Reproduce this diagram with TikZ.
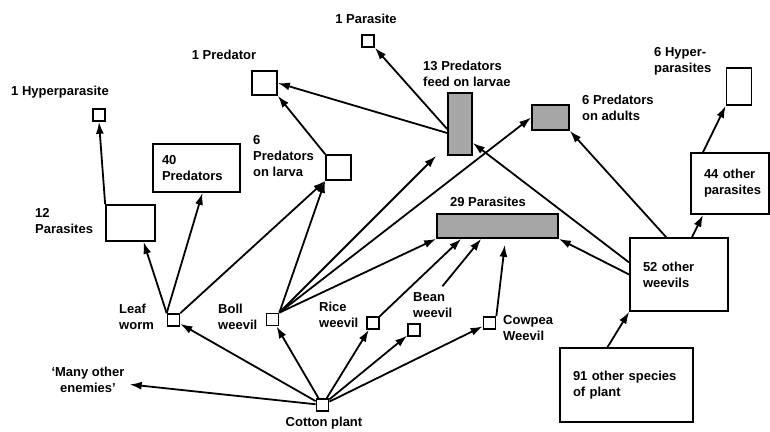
\documentclass[tikz,border=0pt]{standalone}
\usepackage{fontspec}
\setmainfont{Liberation Sans}
\usetikzlibrary{arrows.meta}

\tikzstyle{vertex}=[draw,line width=1.7pt,rectangle,minimum size=12pt,inner sep=0pt]
\tikzstyle{group}=[draw,line width=1.7pt,rectangle,inner sep=0pt]
\tikzstyle{shaded}=[group,fill=black!35]
\tikzstyle{textbox}=[group,align=left,inner xsep=13pt,font=\fontsize{13}{16}\selectfont\bfseries]
\tikzstyle{lbl}=[inner sep=0pt,align=left,font=\fontsize{13}{16}\selectfont\bfseries]
\tikzstyle{edge}=[draw,line width=1.8pt,-{Latex[length=12pt,width=8pt]}]

\begin{document}
\begin{tikzpicture}[x=1pt, y=-1pt]
    \useasboundingbox (0,0) rectangle (770,431);
    % First we draw the small squares
    \foreach \pos/\name in {{(322.5,405)/cotton}, {(173.5,320)/leaf}, {(272.5,319.5)/boll}, {(373,323)/rice}, {(414,330)/bean}, {(489.5,323)/cowpea}, {(99,115)/hyper1}, {(368,41)/parasite1}}
        \node[vertex] (\name) at \pos {};
    % then the boxes of enemies
    \node[group, minimum width=49pt, minimum height=36pt] (parasites12) at (130.5,223) {};
    \node[textbox, text width=69pt, inner xsep=9pt, minimum height=48pt] (predators40) at (196.5,168) {40\\Predators};
    \node[group, minimum width=25pt, minimum height=24pt] (predator1) at (264.5,83) {};
    \node[group, minimum width=25pt, minimum height=25pt] (predlarva6) at (338.5,167.5) {};
    \node[shaded, minimum width=24pt, minimum height=62pt] (pred13) at (460,124) {};
    \node[shaded, minimum width=37pt, minimum height=25pt] (predadults6) at (550.5,117.5) {};
    \node[shaded, minimum width=121pt, minimum height=24pt] (parasites29) at (497.5,226) {};
    \node[group, minimum width=25pt, minimum height=37pt] (hyper6) at (739,86.5) {};
    \node[textbox, text width=52pt, minimum height=61pt] (parasites44) at (730,183.5) {44 other\\parasites};
    \node[textbox, text width=72pt, minimum height=73pt] (weevils52) at (679,274.5) {52 other\\weevils};
    \node[textbox, text width=107pt, minimum height=74pt] (plants91) at (626.5,385) {91 other species\\of plant};
    % Labels
    \node[lbl] (lblhyper1) at (60,92) {1 Hyperparasite};
    \node[lbl, anchor=west] (lblparasites12) at (35,221) {12\\Parasites};
    \node[lbl] (lblpredator1) at (224,55) {1 Predator};
    \node[lbl, anchor=west] (lblpredlarva6) at (253,156) {6\\Predators\\on larva};
    \node[lbl] (lblparasite1) at (366,19) {1 Parasite};
    \node[lbl, anchor=west] (lblpred13) at (423,73.5) {13 Predators\\feed on larvae};
    \node[lbl, anchor=west] (lblpredadults6) at (582,108) {6 Predators\\on adults};
    \node[lbl, anchor=west] (lblhyper6) at (654,61) {6 Hyper-\\parasites};
    \node[lbl] (lblparasites29) at (488,202) {29 Parasites};
    \node[lbl, anchor=west] (lblleaf) at (119,317) {Leaf\\worm};
    \node[lbl, anchor=west] (lblboll) at (218,317) {Boll\\weevil};
    \node[lbl, anchor=west] (lblrice) at (319,315) {Rice\\weevil};
    \node[lbl, anchor=west] (lblbean) at (413,305) {Bean\\weevil};
    \node[lbl, anchor=west] (lblcowpea) at (503,328) {Cowpea\\Weevil};
    \node[lbl, align=center, inner sep=5pt] (lblenemies) at (88,380) {`Many other\\enemies'};
    \node[lbl] (lblcotton) at (324,423) {Cotton plant};
    % Connect who eats whom
    \foreach \source/\dest in {cotton/leaf, cotton/boll, cotton/rice, cotton/bean, cotton/cowpea, cotton/lblenemies,
        leaf.north east/predlarva6.south west, boll.north east/predlarva6.south west,
        boll.north east/predadults6.west, boll.north east/parasites29.south west,
        parasites12.north west/hyper1.south, predlarva6.north west/predator1.south east,
        weevils52.west/parasites29.south east}
        \path[edge] (\source) -- (\dest);
    \path[edge] (leaf.north west) -- ([xshift=13pt]parasites12.south);
    \path[edge] (leaf.north west) -- ([xshift=6pt]predators40.south);
    \path[edge] (boll.north east) -- ([xshift=-11pt]pred13.south west);
    \path[edge] (rice.north east) -- ([xshift=25pt]parasites29.south west);
    \path[edge] ([xshift=-10pt,yshift=6pt]lblbean.north east) -- ([xshift=45pt]parasites29.south west);
    \path[edge, shorten >=6pt] (cowpea.north east) -- ([xshift=8pt]parasites29.south);
    \path[edge] ([yshift=-9pt]pred13.west) -- (predator1.east);
    \path[edge] ([yshift=-5pt]pred13.west) -- (parasite1.south east);
    \path[edge] ([yshift=12pt]weevils52.west) -- ([yshift=-19pt]pred13.east);
    \path[edge] ([xshift=37pt]weevils52.north west) -- (predadults6.south east);
    \path[edge] ([xshift=13pt]weevils52.north) -- ([xshift=-27pt]parasites44.south);
    \path[edge] ([xshift=-27pt]parasites44.north) -- (hyper6.south west);
    \path[edge] ([xshift=-19pt]plants91.north) -- (weevils52.south west);
\end{tikzpicture}
\end{document}
